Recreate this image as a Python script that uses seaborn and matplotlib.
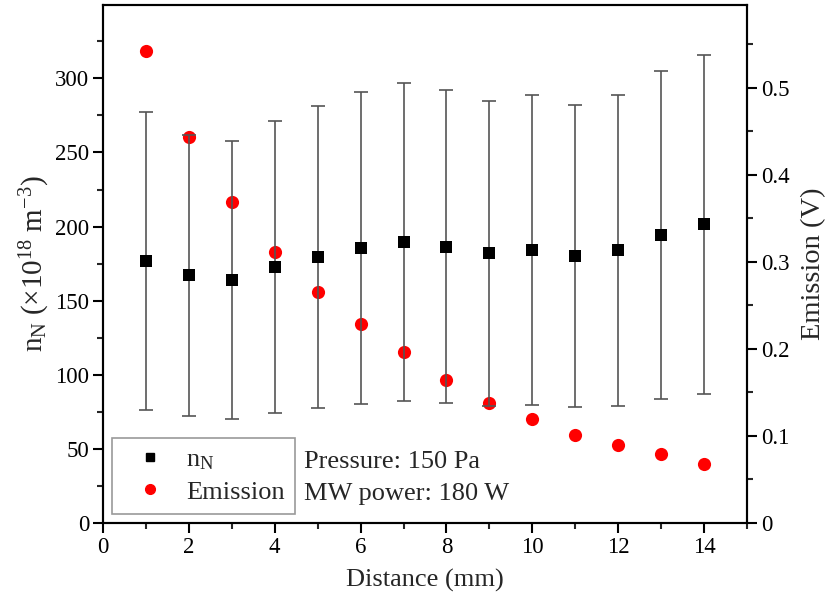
import numpy as np
import pandas as pd
import matplotlib
matplotlib.use("Agg")
import matplotlib.pyplot as plt
import seaborn as sns
from matplotlib.ticker import MultipleLocator
from matplotlib.lines import Line2D

# ---- data ----
distance = [1, 2, 3, 4, 5, 6, 7, 8, 9, 10, 11, 12, 13, 14]
n_N = [177, 167, 164, 173, 179.5, 185.5, 189.5, 186.5, 182, 184, 180, 184, 194.5, 201.5]
n_N_err = [100.5, 95, 93.5, 98.5, 102, 105.5, 107.5, 105.5, 103, 104.5, 102, 105, 110.5, 114.5]
emission = [0.5425, 0.444, 0.369, 0.3115, 0.266, 0.229, 0.197, 0.164, 0.1376, 0.1195,
            0.1015, 0.0893, 0.079, 0.0678]

df = pd.DataFrame({"distance": distance, "n_N": n_N, "err": n_N_err, "emission": emission})

sns.set_style("ticks")
plt.rcParams["font.family"] = ["Liberation Serif", "DejaVu Serif"]
plt.rcParams["mathtext.fontset"] = "custom"
plt.rcParams["mathtext.rm"] = "Liberation Serif"
plt.rcParams["mathtext.it"] = "Liberation Serif:italic"

fig = plt.figure(figsize=(8.28, 6.10), dpi=100)
ax = fig.add_axes([103/828, 1 - 523/610, (747-103)/828, (523-5)/610])
ax2 = ax.twinx()

# error bars
ax.errorbar(df["distance"], df["n_N"], yerr=df["err"], fmt="none",
            ecolor="#555555", elinewidth=1.2, capsize=5, capthick=1.2, zorder=1)
sns.scatterplot(data=df, x="distance", y="n_N", ax=ax, marker="s", s=75,
                color="black", edgecolor="black", linewidth=0, zorder=3, legend=False)
sns.scatterplot(data=df, x="distance", y="emission", ax=ax2, marker="o", s=90,
                color="#ff0000", edgecolor="#ff0000", linewidth=0, zorder=3, legend=False)

ax.set_zorder(ax2.get_zorder() + 1)
ax.patch.set_visible(False)

ax.set_xlim(0, 15)
ax.set_ylim(0, 349.5)
ax2.set_ylim(0, 0.5954)

ax.xaxis.set_major_locator(MultipleLocator(2))
ax.xaxis.set_minor_locator(MultipleLocator(1))
ax.yaxis.set_major_locator(MultipleLocator(50))
ax.yaxis.set_minor_locator(MultipleLocator(25))
ax2.yaxis.set_major_locator(MultipleLocator(0.1))
ax2.yaxis.set_minor_locator(MultipleLocator(0.05))

def fmt_right(v, pos):
    if abs(v) < 1e-9:
        return "0"
    return f"{v:.1f}"
ax2.yaxis.set_major_formatter(matplotlib.ticker.FuncFormatter(fmt_right))

for a in (ax, ax2):
    for sp in a.spines.values():
        sp.set_linewidth(1.5)
        sp.set_color("black")
    a.tick_params(which="major", direction="out", length=7, width=1.5, labelsize=16.5,
                  colors="black", pad=3)
    a.tick_params(which="minor", direction="out", length=4, width=1.5)
ax.tick_params(axis="x", which="both", top=False)
ax2.tick_params(axis="y", which="both", left=False, right=True)

ax.set_xlabel("Distance (mm)", fontsize=19, labelpad=8)
ax.set_ylabel(r"$\mathregular{n_N\ (\times10^{18}\ m^{-3})}$", fontsize=21, labelpad=2)
ax2.set_ylabel("Emission (V)", fontsize=20.5, labelpad=8)

handles = [
    Line2D([], [], marker="s", color="black", linestyle="none", markersize=6),
    Line2D([], [], marker="o", color="#ff0000", linestyle="none", markersize=7),
]
leg = ax.legend(handles, [r"$\mathregular{n_N}$", "Emission"], loc="lower left",
                bbox_to_anchor=(0.014, 0.017), borderaxespad=0, fontsize=19,
                frameon=True, fancybox=False, edgecolor="#808080",
                handletextpad=0.3, borderpad=0.4, labelspacing=0.3, handlelength=2.1)
leg.get_frame().set_linewidth(1.2)

ax.text(0.312, 0.118, "Pressure: 150 Pa", transform=ax.transAxes, fontsize=19, va="center", ha="left")
ax.text(0.312, 0.056, "MW power: 180 W", transform=ax.transAxes, fontsize=19, va="center", ha="left")

fig.savefig("out.png", dpi=100)
